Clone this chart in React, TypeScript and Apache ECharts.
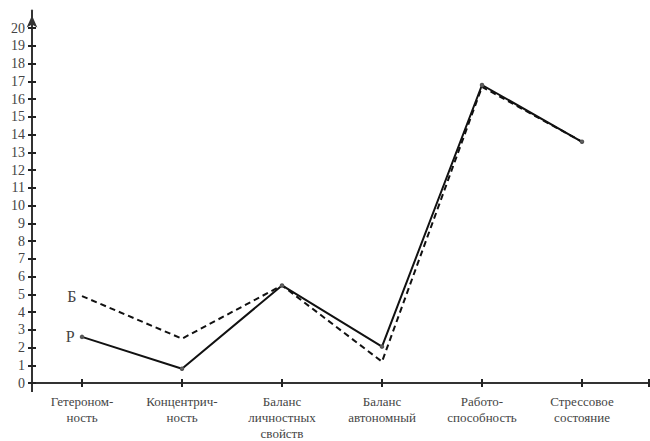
import React, { useEffect, useRef } from "react";
import * as echarts from "echarts";

const categories = [
  "Гетероном-\nность",
  "Концентрич-\nность",
  "Баланс\nличностных\nсвойств",
  "Баланс\nавтономный",
  "Работо-\nспособность",
  "Стрессовое\nсостояние",
];
const seriesR = [2.6, 0.8, 5.5, 2.05, 16.8, 13.6];
const seriesB = [4.9, 2.5, 5.5, 1.2, 16.7, 13.6];
const yTicks = Array.from({ length: 21 }, (_, i) => i);
const xTickValues = [0, 1, 2, 3, 4, 5, 5.67];
const xLabelValues = [0, 1, 2, 3, 4, 5];

const FONT = "Liberation Serif";

export default function App() {
  const ref = useRef<HTMLDivElement>(null);
  useEffect(() => {
    if (!ref.current) return;
    const chart = echarts.init(ref.current, undefined, { renderer: "svg" });
    const toPairs = (arr: number[]) => arr.map((v, i) => [i, v]);
    const firstLabel = (arr: number[], txt: string) =>
      toPairs(arr).map((p, i) =>
        i === 0
          ? {
              value: p,
              label: {
                show: true,
                position: "left",
                distance: 5,
                formatter: txt,
                fontFamily: FONT,
                fontSize: 16,
                color: "#444",
              },
            }
          : { value: p }
      );
    const tickStyle = { color: "#222", width: 2 };
    chart.setOption({
      animation: false,
      backgroundColor: "#fff",
      textStyle: { fontFamily: FONT },
      grid: { left: 32, right: 1, top: 10.5, bottom: 57.3, containLabel: false },
      xAxis: [
        {
          type: "value",
          min: -0.5,
          max: 5.67,
          position: "bottom",
          splitLine: { show: false },
          axisLine: { show: true, onZero: false, lineStyle: { color: "#333", width: 2 } },
          axisTick: { show: true, length: 4, customValues: xTickValues, lineStyle: tickStyle },
          axisLabel: {
            customValues: xLabelValues,
            formatter: (v: number) => categories[Math.round(v)] ?? "",
            fontFamily: FONT,
            fontSize: 13,
            color: "#444",
            lineHeight: 16,
            margin: 10,
            verticalAlign: "top",
          },
        },
        {
          type: "value",
          min: -0.5,
          max: 5.67,
          position: "bottom",
          splitLine: { show: false },
          axisLine: { show: false, onZero: false },
          axisTick: { show: true, inside: true, length: 4, customValues: xTickValues, lineStyle: tickStyle },
          axisLabel: { show: false },
        },
      ],
      yAxis: [
        {
          type: "value",
          min: 0,
          max: 21,
          interval: 1,
          position: "left",
          splitLine: { show: false },
          axisLine: {
            show: true,
            onZero: false,
            symbol: ["none", "arrow"],
            symbolSize: [8, 12],
            symbolOffset: [0, -5],
            lineStyle: { color: "#333", width: 2 },
          },
          axisTick: { show: true, length: 4, customValues: yTicks, lineStyle: tickStyle },
          axisLabel: {
            customValues: yTicks,
            formatter: (v: number) => (v <= 20 ? String(v) : ""),
            fontFamily: FONT,
            fontSize: 14,
            color: "#444",
            margin: 7,
          },
        },
        {
          type: "value",
          min: 0,
          max: 21,
          interval: 1,
          position: "left",
          splitLine: { show: false },
          axisLine: { show: false, onZero: false },
          axisTick: { show: true, inside: true, length: 4, customValues: yTicks, lineStyle: tickStyle },
          axisLabel: { show: false },
        },
      ],
      series: [
        {
          name: "Р",
          type: "line",
          data: firstLabel(seriesR, "Р"),
          symbol: "emptyCircle",
          symbolSize: 2.5,
          itemStyle: { color: "#555", borderWidth: 0.6 },
          lineStyle: { color: "#111", width: 2 },
          z: 3,
        },
        {
          name: "Б",
          type: "line",
          data: firstLabel(seriesB, "Б"),
          symbol: "circle",
          symbolSize: 1,
          itemStyle: { color: "rgba(0,0,0,0)" },
          lineStyle: { color: "#111", width: 2, type: [6, 4] },
          z: 2,
        },
      ],
    });
    const origin = chart.convertToPixel({ xAxisIndex: 0, yAxisIndex: 0 }, [-0.5, 0]) as number[];
    chart.setOption({
      graphic: [
        {
          type: "line",
          shape: { x1: origin[0], y1: origin[1], x2: origin[0], y2: origin[1] + 9 },
          style: { stroke: "#333", lineWidth: 2 },
        },
        {
          type: "line",
          shape: { x1: origin[0] - 3, y1: origin[1], x2: origin[0], y2: origin[1] },
          style: { stroke: "#333", lineWidth: 2 },
        },
      ],
    });
    return () => chart.dispose();
  }, []);
  return (
    <div
      ref={ref}
      style={{ position: "absolute", left: 0, top: 0, width: 650, height: 441 }}
    />
  );
}
